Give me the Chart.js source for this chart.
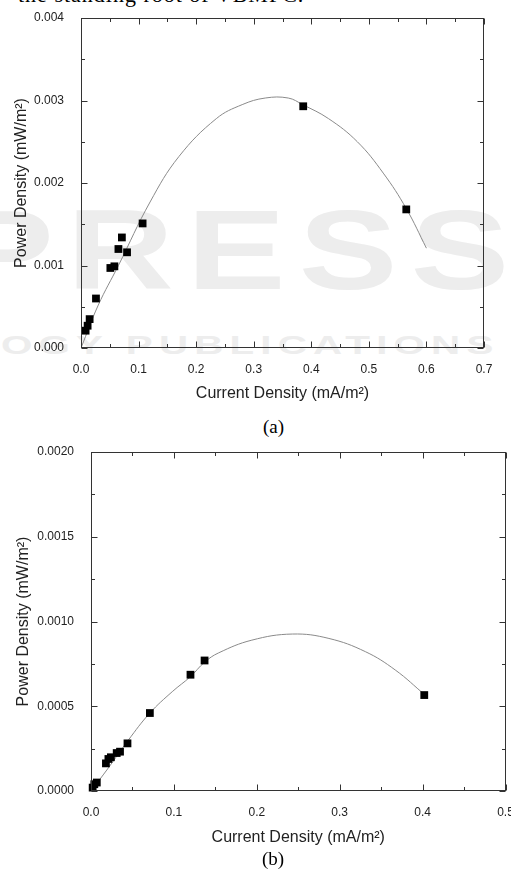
<!DOCTYPE html>
<html>
<head>
<meta charset="utf-8">
<script src="https://cdn.jsdelivr.net/npm/chart.js@4"></script>
<style>
  body { margin: 0; background: #fff; width: 511px; height: 872px; overflow: hidden; position: relative; }
  canvas { position: absolute; left: 0; }
  #chartA { top: 0; }
  #chartB { top: 430px; }
  .cap { position: absolute; font-family: "Liberation Serif", "Times New Roman", serif; font-size: 19px; color: #000; }
  .mark { position: absolute; font-family: "Liberation Sans", Arial, sans-serif; font-weight: bold; color: #ededed; white-space: nowrap; transform-origin: 0 0; }
</style>
</head>
<body>
<div class="cap" style="top:-18px;left:18px;font-size:22px;white-space:nowrap;letter-spacing:1px">the standing root of VBMFC.</div>
<div class="mark" style="top:184px;left:-45px;font-size:114px;letter-spacing:10px;transform:scaleX(1.3)">PRESS</div>
<div class="mark" style="top:330px;left:1px;font-size:26px;letter-spacing:4px;transform:scaleX(1.55)">OGY PUBLICATIONS</div>
<canvas id="chartA" width="511" height="410"></canvas>
<div class="cap" style="top:416px;left:263px">(a)</div>
<canvas id="chartB" width="511" height="420"></canvas>
<div class="cap" style="top:848px;left:262px">(b)</div>
<script>
const aPointX = [0.008, 0.0115, 0.015, 0.026, 0.051, 0.058, 0.065, 0.071, 0.080, 0.107, 0.386, 0.565];
const aPointY = [0.00021, 0.00027, 0.00035, 0.00060, 0.00097, 0.00099, 0.00120, 0.00134, 0.00116, 0.00151, 0.00293, 0.00168];
const aCurveX = [0, 0.03, 0.065, 0.12, 0.17, 0.235, 0.28, 0.32, 0.36, 0.385, 0.43, 0.48, 0.525, 0.565, 0.6];
const aCurveY = [0, 0.00052, 0.00100, 0.00177, 0.00232, 0.00278, 0.00295, 0.00303, 0.00303, 0.00295, 0.00278, 0.00250, 0.00212, 0.00169, 0.00121];

// (b)
const bPointX = [0.002, 0.004, 0.007, 0.018, 0.021, 0.024, 0.031, 0.035, 0.044, 0.071, 0.120, 0.137, 0.402];
const bPointY = [0.00002, 0.00004, 0.00005, 0.000163, 0.000189, 0.000199, 0.000224, 0.000232, 0.000281, 0.000460, 0.000686, 0.000770, 0.000566];
const bCurveX = [0, 0.02, 0.045, 0.071, 0.098, 0.12, 0.137, 0.154, 0.194, 0.243, 0.287, 0.331, 0.367, 0.403];
const bCurveY = [0, 0.00013, 0.00030, 0.00046, 0.000586, 0.000675, 0.00076, 0.000815, 0.00089, 0.000926, 0.00090, 0.000822, 0.000714, 0.000566];

const xTitle = "Current Density (mA/m²)";
const yTitle = "Power Density (mW/m²)";

const textColor = "#222";
const fontFamily = "'Liberation Sans', Arial, sans-serif";

// box round the plot with inward major and minor ticks on all four sides
const frameTicks = {
  id: "frameTicks",
  afterDraw(chart) {
    const { ctx, chartArea: a, scales: { x, y } } = chart;
    const L = Math.round(a.left) + 0.5, R = Math.round(a.right) - 0.5;
    const T = Math.round(a.top) + 0.5, B = Math.round(a.bottom) - 0.5;
    ctx.save();
    ctx.strokeStyle = "#333";
    ctx.lineWidth = 1;
    ctx.strokeRect(L, T, R - L, B - T);
    ctx.beginPath();
    const xs = x.ticks.map(t => t.value);
    xs.forEach((v, i) => {
      const px = Math.round(x.getPixelForValue(v)) + 0.5;
      ctx.moveTo(px, B); ctx.lineTo(px, B - 6);
      ctx.moveTo(px, T); ctx.lineTo(px, T + 6);
      if (i < xs.length - 1) {
        const mx = Math.round(x.getPixelForValue((v + xs[i + 1]) / 2)) + 0.5;
        ctx.moveTo(mx, B); ctx.lineTo(mx, B - 3.5);
        ctx.moveTo(mx, T); ctx.lineTo(mx, T + 3.5);
      }
    });
    const ys = y.ticks.map(t => t.value);
    ys.forEach((v, i) => {
      const py = Math.round(y.getPixelForValue(v)) + 0.5;
      ctx.moveTo(L, py); ctx.lineTo(L + 6, py);
      ctx.moveTo(R, py); ctx.lineTo(R - 6, py);
      if (i < ys.length - 1) {
        const my = Math.round(y.getPixelForValue((v + ys[i + 1]) / 2)) + 0.5;
        ctx.moveTo(L, my); ctx.lineTo(L + 3.5, my);
        ctx.moveTo(R, my); ctx.lineTo(R - 3.5, my);
      }
    });
    ctx.stroke();
    ctx.restore();
  }
};

function makeChart(id, o) {
  const pts = o.px.map((v, i) => ({ x: v, y: o.py[i] }));
  const curve = o.cx.map((v, i) => ({ x: v, y: o.cy[i] }));
  return new Chart(document.getElementById(id), {
    type: "scatter",
    data: {
      datasets: [
        {
          data: curve,
          showLine: true,
          borderColor: "#8a8a8a",
          borderWidth: 1,
          pointRadius: 0,
          tension: 0.4,
          order: 2
        },
        {
          data: pts,
          pointStyle: "rect",
          pointRadius: 5.5,
          backgroundColor: "#000",
          borderColor: "#000",
          borderWidth: 0,
          clip: false,
          order: 1
        }
      ]
    },
    options: {
      responsive: false,
      animation: false,
      devicePixelRatio: 1,
      layout: { padding: { top: o.top, right: o.right, left: 0, bottom: 0 } },
      plugins: { legend: { display: false }, tooltip: { enabled: false } },
      scales: {
        x: {
          type: "linear",
          min: 0,
          max: o.xMax,
          grid: { display: false },
          border: { display: false },
          ticks: {
            stepSize: 0.1,
            padding: 6,
            color: textColor,
            font: { family: fontFamily, size: 12 },
            maxRotation: 0,
            callback: v => v.toFixed(1)
          },
          title: {
            display: true,
            text: xTitle,
            color: textColor,
            font: { family: fontFamily, size: 16 },
            padding: { top: 0, bottom: o.xTitlePad }
          },
          afterFit: s => { s.height = o.xHeight; s.paddingLeft = 0; s.paddingRight = 0; }
        },
        y: {
          type: "linear",
          min: 0,
          max: o.yMax,
          grid: { display: false },
          border: { display: false },
          ticks: {
            stepSize: o.yStep,
            padding: 9,
            color: textColor,
            font: { family: fontFamily, size: 12 },
            callback: v => v.toFixed(o.yDec)
          },
          title: {
            display: true,
            text: yTitle,
            color: textColor,
            font: { family: fontFamily, size: 16 },
            padding: { top: o.yTitlePad, bottom: 0 }
          },
          afterFit: s => { s.width = o.yWidth; s.paddingTop = 0; s.paddingBottom = 0; }
        }
      }
    },
    plugins: [frameTicks]
  });
}

makeChart("chartA", {
  px: aPointX, py: aPointY, cx: aCurveX, cy: aCurveY,
  xMax: 0.7, yMax: 0.004, yStep: 0.001, yDec: 3,
  top: 18, right: 27, yWidth: 81, xHeight: 62, xTitlePad: 7, yTitlePad: 12
});

makeChart("chartB", {
  px: bPointX, py: bPointY, cx: bCurveX, cy: bCurveY,
  xMax: 0.5, yMax: 0.002, yStep: 0.0005, yDec: 4,
  top: 22, right: 5, yWidth: 91, xHeight: 59, xTitlePad: 3, yTitlePad: 14
});
</script>
</body>
</html>
